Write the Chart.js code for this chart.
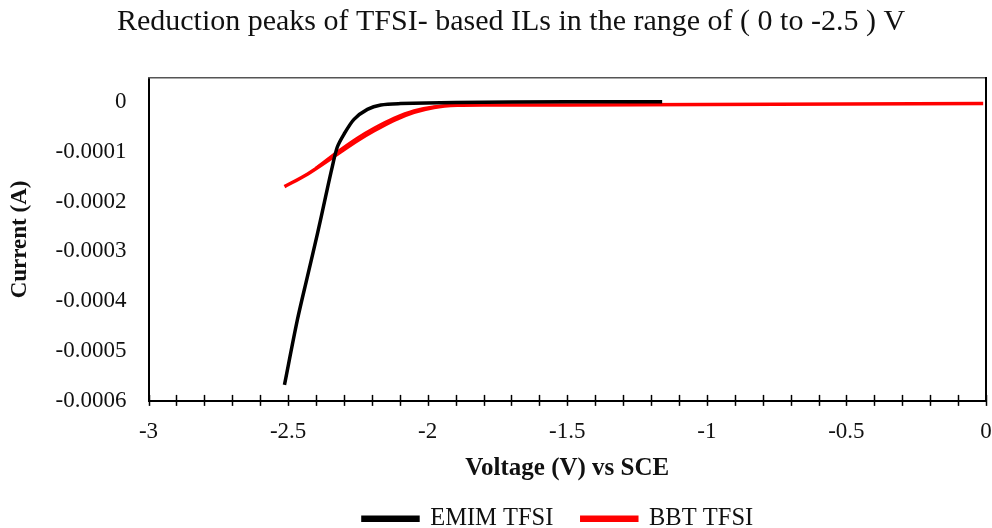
<!DOCTYPE html>
<html lang="en">
<head>
<meta charset="UTF-8" />
<title>Reduction peaks of TFSI- based ILs</title>
<script src="https://cdn.jsdelivr.net/npm/chart.js"></script>
<style>
  html, body { margin: 0; padding: 0; background: #ffffff; }
  #wrap { width: 992px; height: 528px; }
</style>
</head>
<body>
<div id="wrap"><canvas id="cvChart"></canvas></div>
<script>
// values (voltage in V vs SCE, current in A)
const emimVoltage = [-2.513, -2.467, -2.431, -2.395, -2.366, -2.342, -2.324, -2.300, -2.264, -2.216, -2.168, -2.097, -1.9, -1.5, -1.16];
const emimCurrent = [-0.000568, -0.000438, -0.000351, -0.000265, -0.000191, -0.000131, -0.000091, -0.000065, -0.000035, -0.000015, -0.000006, -0.0000033, -0.000001, 0.0000005, 0.0000005];

const bbtVoltage = [-2.513, -2.431, -2.324, -2.252, -2.192, -2.121, -2.049, -1.977, -1.894, -1.774, -1.5, -1.0, -0.5, -0.01];
const bbtCurrent = [-0.00017, -0.000145, -0.000105, -0.000078, -0.000058, -0.000037, -0.000021, -0.000011, -0.0000067, -0.000006, -0.000006, -0.000005, -0.000004, -0.000003];
// return sweep of BBT TFSI (sits a little above the forward one)
const bbtBackVoltage = [-2.40, -2.324, -2.252, -2.192, -2.121, -2.049, -1.977, -1.894, -1.774];
const bbtBackCurrent = [-0.000132, -0.000100, -0.000072, -0.000052, -0.000032, -0.000017, -0.000009, -0.0000055, -0.000005];

const xTicks = [-3, -2.5, -2, -1.5, -1, -0.5, 0];
const yTicks = [-0.0006, -0.0005, -0.0004, -0.0003, -0.0002, -0.0001, 0];
const yTickLabels = ['-0.0006', '-0.0005', '-0.0004', '-0.0003', '-0.0002', '-0.0001', '0'];

const serif = "'Liberation Serif', 'Times New Roman', serif";

function toPoints(xs, ys) {
  return xs.map((x, i) => ({ x: x, y: ys[i] }));
}

// minor ticks every 0.1 V that cross the x axis line
const crossTicks = {
  id: 'crossTicks',
  afterDraw(chart) {
    const ctx = chart.ctx;
    const xs = chart.scales.x;
    const y0 = chart.chartArea.bottom;
    ctx.save();
    ctx.strokeStyle = '#000';
    ctx.lineWidth = 1.5;
    for (let i = 0; i <= 30; i++) {
      const v = -3 + i * 0.1;
      const px = Math.round(xs.getPixelForValue(v)) + 0.5;
      ctx.beginPath();
      ctx.moveTo(px, y0 - 6);
      ctx.lineTo(px, y0 + 5);
      ctx.stroke();
    }
    ctx.restore();
  }
};

new Chart(document.getElementById('cvChart'), {
  type: 'scatter',
  data: {
    datasets: [{
      label: 'EMIM TFSI',
      data: toPoints(emimVoltage, emimCurrent),
      showLine: true,
      borderColor: '#000000',
      backgroundColor: '#000000',
      borderWidth: 3.5,
      pointRadius: 0,
      tension: 0.3
    }, {
      label: 'BBT TFSI',
      data: toPoints(bbtVoltage, bbtCurrent),
      showLine: true,
      borderColor: '#ff0000',
      backgroundColor: '#ff0000',
      borderWidth: 3.5,
      pointRadius: 0,
      tension: 0.3
    }, {
      label: 'BBT back',
      data: toPoints(bbtBackVoltage, bbtBackCurrent),
      showLine: true,
      borderColor: '#ff0000',
      backgroundColor: '#ff0000',
      borderWidth: 2.5,
      pointRadius: 0,
      tension: 0.3
    }]
  },
  options: {
    responsive: true,
    maintainAspectRatio: false,
    animation: false,
    layout: { padding: { left: 0, right: 0, top: 0, bottom: -13 } },
    plugins: {
      tooltip: { enabled: false },
      title: {
        display: true,
        text: '    Reduction peaks of TFSI- based ILs in the range of ( 0 to -2.5 ) V',
        color: '#111',
        font: { family: serif, size: 30, weight: 'normal' },
        padding: { top: 4, bottom: 38 }
      },
      legend: {
        position: 'bottom',
        fullSize: false,
        labels: {
          filter: item => item.text !== 'BBT back',
          generateLabels: chart => {
            const items = Chart.defaults.plugins.legend.labels.generateLabels(chart);
            items.forEach(it => {
              if (it.text === 'EMIM TFSI') it.text = 'EMIM TFSI   ';
              if (it.text === 'BBT TFSI') it.text = 'BBT TFSI   ';
            });
            return items;
          },
          color: '#111',
          font: { family: serif, size: 24.5 },
          boxWidth: 55,
          boxHeight: 3,
          padding: 10
        }
      }
    },
    scales: {
      x: {
        type: 'linear',
        min: -3,
        max: 0,
        afterBuildTicks: scale => { scale.ticks = xTicks.map(v => ({ value: v })); },
        afterFit: s => { s.paddingRight = 6; },
        ticks: {
          color: '#111',
          font: { family: serif, size: 23 },
          padding: 17,
          maxRotation: 0,
          callback: v => String(v)
        },
        grid: { drawOnChartArea: false, drawTicks: false },
        border: { display: true, color: '#000', width: 2 },
        title: {
          display: true,
          text: 'Voltage (V) vs SCE',
          color: '#111',
          font: { family: serif, size: 25, weight: 'bold' },
          padding: { top: -9, bottom: 13 }
        }
      },
      y: {
        type: 'linear',
        min: -0.0006,
        max: 0.000048,
        afterBuildTicks: scale => { scale.ticks = yTicks.map(v => ({ value: v })); },
        ticks: {
          color: '#111',
          font: { family: serif, size: 23 },
          padding: 22,
          callback: (v, i) => yTickLabels[i]
        },
        grid: { drawOnChartArea: false, drawTicks: false },
        border: { display: true, color: '#000', width: 2 },
        title: {
          display: true,
          text: 'Current (A)',
          color: '#111',
          font: { family: serif, size: 23, weight: 'bold' },
          padding: { top: 6, bottom: 0 }
        }
      },
      // top and right edges of the plot box
      x2: {
        type: 'linear', position: 'top', min: -3, max: 0,
        ticks: { display: false }, grid: { display: false },
        border: { display: true, color: '#555', width: 1.5 },
        afterFit: s => { s.height = 0; }
      },
      y2: {
        type: 'linear', position: 'right', min: -0.0006, max: 0.000048,
        ticks: { display: false }, grid: { display: false },
        border: { display: true, color: '#000', width: 2 },
        afterFit: s => { s.width = 0; }
      }
    }
  },
  plugins: [crossTicks]
});
</script>
</body>
</html>
